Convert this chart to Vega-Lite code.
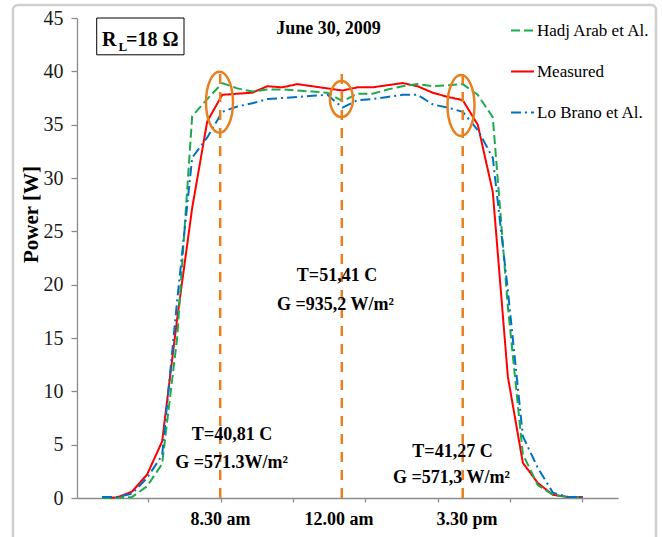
{
  "$schema": "https://vega.github.io/schema/vega-lite/v6.json",
  "width": 541,
  "height": 480,
  "autosize": "none",
  "padding": {"left": 77, "top": 18, "right": 44, "bottom": 39},
  "background": "white",
  "view": {"stroke": null},
  "config": {"font": "Liberation Serif"},
  "datasets": {
    "power": [
      {"time": 5.0, "series": "Measured", "power": 0},
      {"time": 5.4375, "series": "Measured", "power": 0.05},
      {"time": 5.875, "series": "Measured", "power": 0.6},
      {"time": 6.3125, "series": "Measured", "power": 2.2},
      {"time": 6.75, "series": "Measured", "power": 5.3},
      {"time": 7.1875, "series": "Measured", "power": 16.8},
      {"time": 7.625, "series": "Measured", "power": 27.2},
      {"time": 8.0625, "series": "Measured", "power": 35.3},
      {"time": 8.5, "series": "Measured", "power": 37.8},
      {"time": 8.9375, "series": "Measured", "power": 37.9},
      {"time": 9.375, "series": "Measured", "power": 38.0},
      {"time": 9.8125, "series": "Measured", "power": 38.6},
      {"time": 10.25, "series": "Measured", "power": 38.5},
      {"time": 10.6875, "series": "Measured", "power": 38.8},
      {"time": 11.125, "series": "Measured", "power": 38.6},
      {"time": 11.5625, "series": "Measured", "power": 38.4},
      {"time": 12.0, "series": "Measured", "power": 38.2},
      {"time": 12.4375, "series": "Measured", "power": 38.5},
      {"time": 12.875, "series": "Measured", "power": 38.5},
      {"time": 13.3125, "series": "Measured", "power": 38.7},
      {"time": 13.75, "series": "Measured", "power": 38.9},
      {"time": 14.1875, "series": "Measured", "power": 38.6},
      {"time": 14.625, "series": "Measured", "power": 38.0},
      {"time": 15.0625, "series": "Measured", "power": 37.6},
      {"time": 15.5, "series": "Measured", "power": 37.3},
      {"time": 15.9375, "series": "Measured", "power": 35.0},
      {"time": 16.375, "series": "Measured", "power": 28.7},
      {"time": 16.8125, "series": "Measured", "power": 11.4},
      {"time": 17.25, "series": "Measured", "power": 3.3},
      {"time": 17.6875, "series": "Measured", "power": 1.4},
      {"time": 18.125, "series": "Measured", "power": 0.3},
      {"time": 18.5625, "series": "Measured", "power": 0.1},
      {"time": 19.0, "series": "Measured", "power": 0.1},

      {"time": 5.0, "series": "Hadj Arab et Al.", "power": 0},
      {"time": 5.4375, "series": "Hadj Arab et Al.", "power": 0},
      {"time": 5.875, "series": "Hadj Arab et Al.", "power": 0.1},
      {"time": 6.3125, "series": "Hadj Arab et Al.", "power": 1.1},
      {"time": 6.75, "series": "Hadj Arab et Al.", "power": 3.2},
      {"time": 7.1875, "series": "Hadj Arab et Al.", "power": 15.0},
      {"time": 7.625, "series": "Hadj Arab et Al.", "power": 35.8},
      {"time": 8.0625, "series": "Hadj Arab et Al.", "power": 37.4},
      {"time": 8.5, "series": "Hadj Arab et Al.", "power": 38.9},
      {"time": 8.9375, "series": "Hadj Arab et Al.", "power": 38.4},
      {"time": 9.375, "series": "Hadj Arab et Al.", "power": 38.1},
      {"time": 9.8125, "series": "Hadj Arab et Al.", "power": 38.3},
      {"time": 10.25, "series": "Hadj Arab et Al.", "power": 38.3},
      {"time": 10.6875, "series": "Hadj Arab et Al.", "power": 38.2},
      {"time": 11.125, "series": "Hadj Arab et Al.", "power": 38.1},
      {"time": 11.5625, "series": "Hadj Arab et Al.", "power": 38.0},
      {"time": 12.0, "series": "Hadj Arab et Al.", "power": 37.2},
      {"time": 12.4375, "series": "Hadj Arab et Al.", "power": 37.9},
      {"time": 12.875, "series": "Hadj Arab et Al.", "power": 37.9},
      {"time": 13.3125, "series": "Hadj Arab et Al.", "power": 38.3},
      {"time": 13.75, "series": "Hadj Arab et Al.", "power": 38.6},
      {"time": 14.1875, "series": "Hadj Arab et Al.", "power": 38.8},
      {"time": 14.625, "series": "Hadj Arab et Al.", "power": 38.6},
      {"time": 15.0625, "series": "Hadj Arab et Al.", "power": 38.7},
      {"time": 15.5, "series": "Hadj Arab et Al.", "power": 38.8},
      {"time": 15.9375, "series": "Hadj Arab et Al.", "power": 37.8},
      {"time": 16.375, "series": "Hadj Arab et Al.", "power": 35.7},
      {"time": 16.8125, "series": "Hadj Arab et Al.", "power": 18.0},
      {"time": 17.25, "series": "Hadj Arab et Al.", "power": 4.1},
      {"time": 17.6875, "series": "Hadj Arab et Al.", "power": 1.2},
      {"time": 18.125, "series": "Hadj Arab et Al.", "power": 0.3},
      {"time": 18.5625, "series": "Hadj Arab et Al.", "power": 0.1},
      {"time": 19.0, "series": "Hadj Arab et Al.", "power": 0.05},

      {"time": 5.0, "series": "Lo Brano et Al.", "power": 0.1},
      {"time": 5.4375, "series": "Lo Brano et Al.", "power": 0.1},
      {"time": 5.875, "series": "Lo Brano et Al.", "power": 0.4},
      {"time": 6.3125, "series": "Lo Brano et Al.", "power": 1.9},
      {"time": 6.75, "series": "Lo Brano et Al.", "power": 4.0},
      {"time": 7.1875, "series": "Lo Brano et Al.", "power": 18.5},
      {"time": 7.625, "series": "Lo Brano et Al.", "power": 31.9},
      {"time": 8.0625, "series": "Lo Brano et Al.", "power": 33.8},
      {"time": 8.5, "series": "Lo Brano et Al.", "power": 36.2},
      {"time": 8.9375, "series": "Lo Brano et Al.", "power": 36.7},
      {"time": 9.375, "series": "Lo Brano et Al.", "power": 37.0},
      {"time": 9.8125, "series": "Lo Brano et Al.", "power": 37.4},
      {"time": 10.25, "series": "Lo Brano et Al.", "power": 37.5},
      {"time": 10.6875, "series": "Lo Brano et Al.", "power": 37.6},
      {"time": 11.125, "series": "Lo Brano et Al.", "power": 37.7},
      {"time": 11.5625, "series": "Lo Brano et Al.", "power": 37.8},
      {"time": 12.0, "series": "Lo Brano et Al.", "power": 36.6},
      {"time": 12.4375, "series": "Lo Brano et Al.", "power": 37.3},
      {"time": 12.875, "series": "Lo Brano et Al.", "power": 37.4},
      {"time": 13.3125, "series": "Lo Brano et Al.", "power": 37.6},
      {"time": 13.75, "series": "Lo Brano et Al.", "power": 37.8},
      {"time": 14.1875, "series": "Lo Brano et Al.", "power": 37.8},
      {"time": 14.625, "series": "Lo Brano et Al.", "power": 36.9},
      {"time": 15.0625, "series": "Lo Brano et Al.", "power": 36.6},
      {"time": 15.5, "series": "Lo Brano et Al.", "power": 36.2},
      {"time": 15.9375, "series": "Lo Brano et Al.", "power": 34.5},
      {"time": 16.375, "series": "Lo Brano et Al.", "power": 31.9},
      {"time": 16.8125, "series": "Lo Brano et Al.", "power": 19.5},
      {"time": 17.25, "series": "Lo Brano et Al.", "power": 5.8},
      {"time": 17.6875, "series": "Lo Brano et Al.", "power": 2.8},
      {"time": 18.125, "series": "Lo Brano et Al.", "power": 0.5},
      {"time": 18.5625, "series": "Lo Brano et Al.", "power": 0.1},
      {"time": 19.0, "series": "Lo Brano et Al.", "power": 0.1}
    ],
    "markers": [
      {"time": 8.44, "power": 0, "hi": 40.0},
      {"time": 11.98, "power": 0, "hi": 40.0},
      {"time": 15.5, "power": 0, "hi": 40.4}
    ],
    "bigEllipses": [
      {"time": 8.42, "power": 37.1},
      {"time": 15.45, "power": 36.8}
    ],
    "smallEllipses": [
      {"time": 11.97, "power": 37.4}
    ],
    "notes": [
      {"label": "T=40,81 C", "time": 8.784, "power": 5.93},
      {"label": "G =571.3W/m²", "time": 8.77, "power": 3.31},
      {"label": "T=51,41 C", "time": 11.84, "power": 20.85},
      {"label": "G =935,2 W/m²", "time": 11.797, "power": 18.12},
      {"label": "T=41,27 C", "time": 15.202, "power": 4.34},
      {"label": "G =571,3 W/m²", "time": 15.173, "power": 1.9},
      {"label": "June 30, 2009", "time": 11.593, "power": 43.98},
      {"label": "8.30 am", "time": 8.449, "power": -2.08},
      {"label": "12.00 am", "time": 11.899, "power": -2.08},
      {"label": "3.30 pm", "time": 15.624, "power": -2.08}
    ],
    "box": [
      {"time": 4.846, "time2": 7.387, "power": 41.55, "power2": 45.0}
    ],
    "frame": [
      {"time": 2.409, "time2": 21.126, "power": -4.5, "power2": 46.23}
    ],
    "rl": [
      {"label": "R", "time": 5.0, "power": 42.39},
      {"label": "=18 Ω", "time": 5.699, "power": 42.39}
    ],
    "rlsub": [
      {"label": "L", "time": 5.48, "power": 41.87}
    ]
  },
  "layer": [
    {
      "data": {"name": "power"},
      "mark": {"type": "line", "strokeWidth": 2},
      "encoding": {
        "x": {
          "field": "time", "type": "quantitative",
          "scale": {"domain": [4.2723, 20.0197], "nice": false, "zero": false},
          "axis": {
            "title": null, "labels": false, "grid": false,
            "values": [6.348, 8.452, 10.557, 12.661, 14.766, 16.87, 18.975],
            "tickSize": 4, "tickColor": "#8C8C8C", "domainColor": "#8C8C8C", "domainWidth": 1.3, "tickWidth": 1.3
          }
        },
        "y": {
          "field": "power", "type": "quantitative",
          "scale": {"domain": [0, 45], "nice": false},
          "axis": {
            "title": "Power [W]", "grid": false,
            "values": [0, 5, 10, 15, 20, 25, 30, 35, 40, 45],
            "tickSize": 6, "tickColor": "#8C8C8C", "domainColor": "#8C8C8C", "domainWidth": 1.3, "tickWidth": 1.3,
            "labelFont": "Liberation Serif", "labelFontSize": 20, "labelColor": "#1a1a1a", "labelPadding": 8,
            "titleFont": "Liberation Serif", "titleFontSize": 21, "titleFontWeight": "bold", "titleColor": "black",
            "titleX": -40, "titleY": 196, "titleAngle": -90, "titleAlign": "center", "titleBaseline": "alphabetic"
          }
        },
        "color": {
          "field": "series", "type": "nominal",
          "scale": {"domain": ["Hadj Arab et Al.", "Measured", "Lo Brano et Al."], "range": ["#1DAA4E", "#FF0000", "#0070C0"]},
          "legend": {
            "title": null, "orient": "none", "legendX": 433, "legendY": 0,
            "symbolType": "stroke", "symbolSize": 529, "symbolStrokeWidth": 2,
            "labelFont": "Liberation Serif", "labelFontSize": 17, "labelColor": "black",
            "rowPadding": 20, "labelOffset": 2
          }
        },
        "strokeDash": {
          "field": "series", "type": "nominal",
          "scale": {"domain": ["Hadj Arab et Al.", "Measured", "Lo Brano et Al."], "range": [[9, 4], [1, 0], [10, 4, 2, 4]]},
          "legend": {
            "title": null, "orient": "none", "legendX": 433, "legendY": 0,
            "symbolType": "stroke", "symbolSize": 529, "symbolStrokeWidth": 2,
            "labelFont": "Liberation Serif", "labelFontSize": 17, "labelColor": "black",
            "rowPadding": 20, "labelOffset": 2
          }
        }
      }
    },
    {
      "data": {"name": "frame"},
      "mark": {"type": "rect", "fill": null, "stroke": "#CFCFCF", "strokeWidth": 2.5, "cornerRadius": 5},
      "encoding": {
        "x": {"field": "time", "type": "quantitative"},
        "x2": {"field": "time2"},
        "y": {"field": "power", "type": "quantitative"},
        "y2": {"field": "power2"}
      }
    },
    {
      "data": {"name": "markers"},
      "mark": {"type": "rule", "color": "#E8801F", "strokeWidth": 2.5, "strokeDash": [10, 8]},
      "encoding": {
        "x": {"field": "time", "type": "quantitative"},
        "y": {"field": "power", "type": "quantitative"},
        "y2": {"field": "hi"}
      }
    },
    {
      "data": {"name": "bigEllipses"},
      "mark": {
        "type": "point", "filled": false, "stroke": "#E8801F", "strokeWidth": 2.5, "opacity": 1, "size": 3721,
        "shape": "M0,-1C0.2444,-1,0.4426,-0.5523,0.4426,0C0.4426,0.5523,0.2444,1,0,1C-0.2444,1,-0.4426,0.5523,-0.4426,0C-0.4426,-0.5523,-0.2444,-1,0,-1Z"
      },
      "encoding": {
        "x": {"field": "time", "type": "quantitative"},
        "y": {"field": "power", "type": "quantitative"}
      }
    },
    {
      "data": {"name": "smallEllipses"},
      "mark": {
        "type": "point", "filled": false, "stroke": "#E8801F", "strokeWidth": 2.5, "opacity": 1, "size": 1296,
        "shape": "M0,-1C0.3529,-1,0.639,-0.5523,0.639,0C0.639,0.5523,0.3529,1,0,1C-0.3529,1,-0.639,0.5523,-0.639,0C-0.639,-0.5523,-0.3529,-1,0,-1Z"
      },
      "encoding": {
        "x": {"field": "time", "type": "quantitative"},
        "y": {"field": "power", "type": "quantitative"}
      }
    },
    {
      "data": {"name": "notes"},
      "mark": {"type": "text", "font": "Liberation Serif", "fontWeight": "bold", "fontSize": 18, "align": "center", "baseline": "middle", "color": "black"},
      "encoding": {
        "x": {"field": "time", "type": "quantitative"},
        "y": {"field": "power", "type": "quantitative"},
        "text": {"field": "label"}
      }
    },
    {
      "data": {"name": "box"},
      "mark": {"type": "rect", "fill": "white", "stroke": "black", "strokeWidth": 1},
      "encoding": {
        "x": {"field": "time", "type": "quantitative"},
        "x2": {"field": "time2"},
        "y": {"field": "power", "type": "quantitative"},
        "y2": {"field": "power2"}
      }
    },
    {
      "data": {"name": "rl"},
      "mark": {"type": "text", "font": "Liberation Serif", "fontWeight": "bold", "fontSize": 20, "align": "left", "baseline": "alphabetic", "color": "black"},
      "encoding": {
        "x": {"field": "time", "type": "quantitative"},
        "y": {"field": "power", "type": "quantitative"},
        "text": {"field": "label"}
      }
    },
    {
      "data": {"name": "rlsub"},
      "mark": {"type": "text", "font": "Liberation Serif", "fontWeight": "bold", "fontSize": 13, "align": "left", "baseline": "alphabetic", "color": "black"},
      "encoding": {
        "x": {"field": "time", "type": "quantitative"},
        "y": {"field": "power", "type": "quantitative"},
        "text": {"field": "label"}
      }
    }
  ]
}
